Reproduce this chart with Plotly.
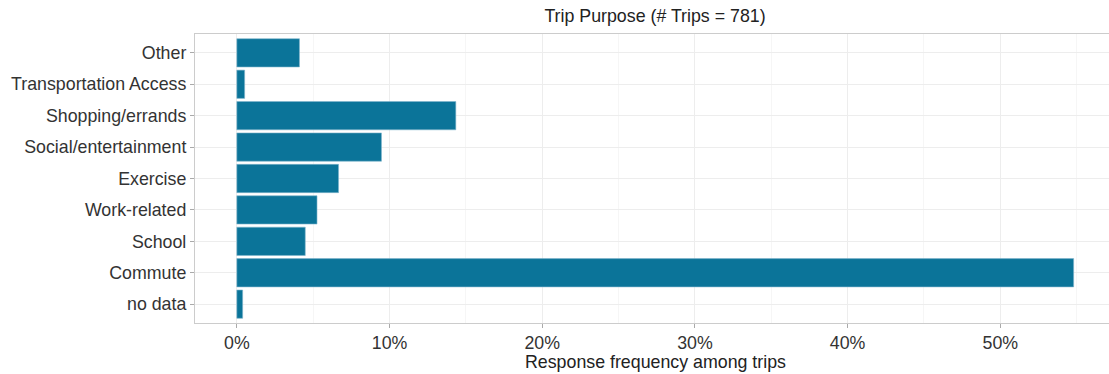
import plotly.graph_objects as go

categories = ["no data", "Commute", "School", "Work-related", "Exercise",
              "Social/entertainment", "Shopping/errands", "Transportation Access", "Other"]
percent = [0.38, 54.8, 4.48, 5.25, 6.66, 9.47, 14.34, 0.51, 4.10]
x_ticks = [0, 10, 20, 30, 40, 50]
x_tick_labels = ["0%", "10%", "20%", "30%", "40%", "50%"]

W, H = 1109, 374
L, R, T, B = 195, 0, 34, 51
px_per_pct = 15.27
x0 = -2.74
x1 = x0 + (W - L - R) / px_per_pct

fig = go.Figure(go.Bar(
    y=categories, x=percent, orientation="h", width=0.9,
    marker=dict(color="#0b7499", line=dict(color="#7fb6cc", width=0.6)),
))

font_family = "Liberation Sans, Arial, sans-serif"
fig.update_layout(
    width=W, height=H,
    margin=dict(l=L, r=R, t=T, b=B, autoexpand=False),
    paper_bgcolor="white", plot_bgcolor="white",
    font=dict(family=font_family, color="#333333"),
    showlegend=False,
    bargap=0.1,
    title=dict(text="Trip Purpose (# Trips = 781)", x=655 / W, xanchor="center",
               y=1 - 16 / H, yanchor="middle", xref="container", yref="container",
               font=dict(size=17.8, color="#222222")),
    xaxis=dict(
        range=[x0, x1], tickvals=x_ticks, ticktext=x_tick_labels,
        showgrid=True, gridcolor="#ededed", gridwidth=1,
        minor=dict(dtick=5, tick0=0, showgrid=True, gridcolor="#f6f6f6", gridwidth=0.8, ticks=""),
        zeroline=False,
        showline=True, linecolor="#cccccc", linewidth=1.2, mirror=True,
        ticks="outside", ticklen=4, tickcolor="#aaaaaa", tickwidth=1,
        tickfont=dict(size=17.8, color="#333333"),
        automargin=False,
    ),
    yaxis=dict(
        categoryorder="array", categoryarray=categories,
        range=[-0.6, len(categories) - 0.4],
        showgrid=True, gridcolor="#ededed", gridwidth=1,
        zeroline=False,
        showline=True, linecolor="#cccccc", linewidth=1.2, mirror=False,
        ticks="outside", ticklen=4, tickcolor="#aaaaaa", tickwidth=1,
        tickfont=dict(size=17.8, color="#333333"),
        automargin=False,
    ),
    annotations=[dict(
        text="Response frequency among trips", xref="paper", yref="paper",
        x=(655 - L) / (W - L - R), y=-(362 - (H - B)) / (H - T - B),
        xanchor="center", yanchor="middle", showarrow=False,
        font=dict(size=17.8, color="#222222"),
    )],
)

fig.write_html("out.html",
               config={"displayModeBar": False},
               post_script="document.body.style.margin='0';document.body.style.overflow='hidden';window.dispatchEvent(new Event('resize'));")
